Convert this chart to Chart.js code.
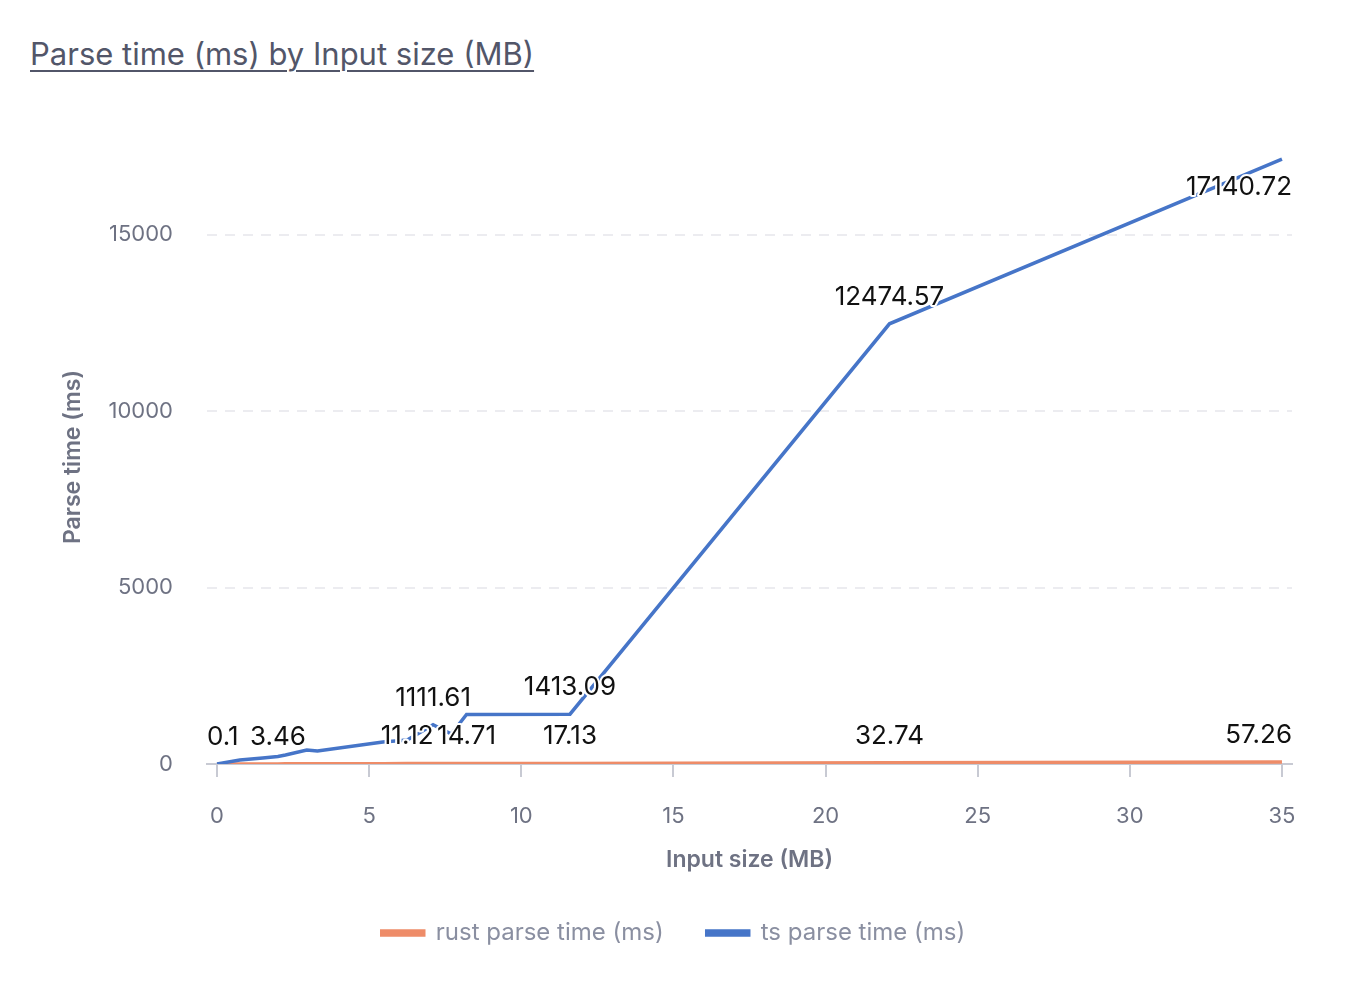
<!DOCTYPE html>
<html>
<head>
<meta charset="utf-8">
<script src="https://cdn.jsdelivr.net/npm/chart.js@4.4.1/dist/chart.umd.min.js"></script>
<style>
  html, body { margin: 0; padding: 0; background: #fff; }
  #wrap { position: relative; width: 1346px; height: 998px; }
  h1 {
    position: absolute; left: 30px; top: 35px; margin: 0;
    font: 400 31px Inter, sans-serif; color: #525669; line-height: 1.2;
    text-decoration: underline; text-underline-offset: 5px; text-decoration-thickness: 2px;
  }
  canvas { position: absolute; left: 0; top: 0; }
</style>
</head>
<body>
<div id="wrap">
  <h1>Parse time (ms) by Input size (MB)</h1>
  <canvas id="chart" width="1346" height="998"></canvas>
</div>
<script>
// input size (MB)
var sizes = [0, 0.75, 1.5, 2.0, 2.25, 2.95, 3.3, 5.45, 6.25, 7.1, 7.7, 8.2, 11.6, 22.1, 35];
var rustTimes = [0.1, 0.8, 1.9, 3.46, 3.9, 5.1, 5.8, 9.6, 11.12, 12.6, 13.8, 14.71, 17.13, 32.74, 57.26];
var tsTimes = [1, 113, 170, 215, 255, 396, 368, 623, 679, 1111.61, 850, 1405, 1413.09, 12474.57, 17140.72];
// which points carry a value label
var rustLabeled = [0, 3, 8, 11, 12, 13, 14];
var tsLabeled = [9, 12, 13, 14];
var xTicks = [0, 5, 10, 15, 20, 25, 30, 35];
var yTicks = [0, 5000, 10000, 15000];

function points(values) {
  var out = [];
  sizes.forEach(function(s, i) {
    out.push({ x: s, y: values[i] });
  });
  return out;
}

var valueLabels = {
  id: 'valueLabels',
  afterDatasetsDraw: function(chart) {
    var ctx = chart.ctx;
    var area = chart.chartArea;
    ctx.save();
    ctx.font = '26px Inter, sans-serif';
    ctx.textAlign = 'center';
    ctx.textBaseline = 'middle';
    ctx.lineJoin = 'round';
    chart.data.datasets.forEach(function(ds, i) {
      var meta = chart.getDatasetMeta(i);
      ds.labeled.forEach(function(idx) {
        var pt = meta.data[idx];
        var text = String(ds.data[idx].y);
        var w = ctx.measureText(text).width;
        var x = pt.x;
        var y = pt.y - 27;
        if (y - 13 < area.top) y = pt.y + 28;
        x = Math.max(area.left + w / 2, Math.min(area.right - w / 2, x));
        ctx.strokeStyle = '#fff';
        ctx.lineWidth = 4;
        ctx.strokeText(text, x, y);
        ctx.fillStyle = '#111';
        ctx.fillText(text, x, y);
      });
    });
    ctx.restore();
  }
};

var ctx = document.getElementById('chart').getContext('2d');
var myChart = new Chart(ctx, {
  type: 'line',
  data: {
    datasets: [{
      label: 'rust parse time (ms)',
      data: points(rustTimes),
      labeled: rustLabeled,
      borderColor: '#ee8c68',
      backgroundColor: '#ee8c68',
      borderWidth: 3.5,
      pointRadius: 0,
      order: 2
    }, {
      label: 'ts parse time (ms)',
      data: points(tsTimes),
      labeled: tsLabeled,
      borderColor: '#4675c8',
      backgroundColor: '#4675c8',
      borderWidth: 3.5,
      pointRadius: 0,
      order: 1
    }]
  },
  options: {
    responsive: false,
    animation: false,
    layout: { padding: { left: 55, top: 150, right: 54, bottom: 43 } },
    plugins: {
      tooltip: { enabled: false },
      legend: {
        position: 'bottom',
        labels: {
          boxWidth: 42,
          boxHeight: 4,
          padding: 43,
          color: '#8a8fa1',
          font: { family: 'Inter', size: 24 },
          sort: function(a, b) { return a.datasetIndex - b.datasetIndex; }
        }
      }
    },
    scales: {
      x: {
        type: 'linear',
        min: -0.33,
        max: 35.33,
        afterBuildTicks: function(scale) {
          scale.ticks = xTicks.map(function(v) { return { value: v }; });
        },
        afterFit: function(scale) { scale.height = 114; },
        grid: { drawOnChartArea: false, drawTicks: true, tickLength: 13, color: '#c8cad3', lineWidth: 2 },
        border: { color: '#c8cad3', width: 2 },
        ticks: { padding: 26, color: '#6e7283', font: { family: 'Inter', size: 22 } },
        title: { display: true, text: 'Input size (MB)', color: '#6e7283', font: { family: 'Inter', size: 23, weight: '600' } }
      },
      y: {
        min: 0,
        max: 17400,
        afterBuildTicks: function(scale) {
          scale.ticks = yTicks.map(function(v) { return { value: v }; });
        },
        afterFit: function(scale) { scale.width = 152; },
        grid: { drawTicks: false, color: '#ececf0', lineWidth: 2 },
        border: { display: false, dash: [10, 8] },
        ticks: {
          padding: 34, color: '#6e7283', font: { family: 'Inter', size: 22 },
          callback: function(v) { return String(v); }
        },
        title: { display: true, text: 'Parse time (ms)', color: '#6e7283', font: { family: 'Inter', size: 23, weight: '600' } }
      }
    }
  },
  plugins: [valueLabels]
});
</script>
</body>
</html>
